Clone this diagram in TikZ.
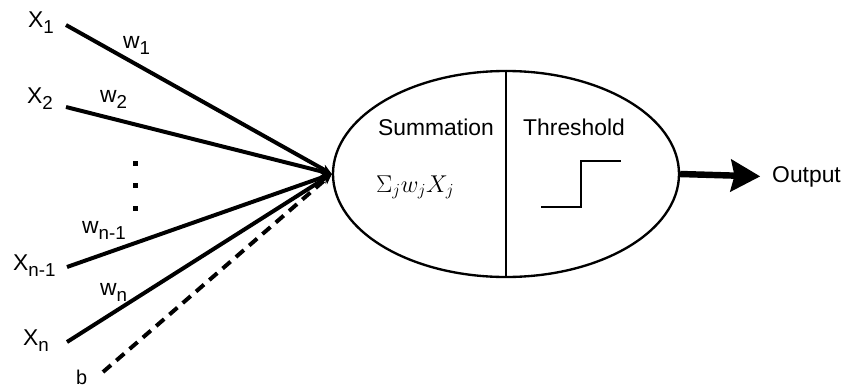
\documentclass[tikz,border=0pt]{standalone}
\usepackage[no-math]{fontspec}
\setmainfont{Liberation Sans}
\usetikzlibrary{arrows.meta,shapes.geometric}

\newcommand\lowsub[1]{\raisebox{-0.55ex}{\fontsize{16}{16}\selectfont #1}}

\tikzset{
  lbl/.style={inner sep=0pt, anchor=base west, font=\fontsize{19.5}{22}\selectfont},
  wire/.style={line width=3.4pt, -{Stealth[length=9pt,width=8pt]}},
}

\begin{document}
\begin{tikzpicture}[x=0.03cm, y=-0.03cm]
  \useasboundingbox (0,0) rectangle (843,389);

  % neuron body
  \node[draw, ellipse, line width=2pt, inner sep=0pt,
        minimum width=10.38cm, minimum height=6.18cm] (neuron) at (506,174) {};
  \draw[line width=2pt] (neuron.north) -- (neuron.south);
  \node[lbl] (sum)  at (378,135) {Summation};
  \node[lbl] (thr)  at (523,135) {Threshold};
  \node[lbl, font=\fontsize{20.5}{22}\selectfont] (form) at (376,192) {$\Sigma_j w_j X_j$};
  \draw[line width=1.8pt] (541,207) -- (581,207) -- (581,161) -- (621,161);

  % inputs
  \node[lbl] (x1)  at (28,27)  {X\lowsub{1}};
  \node[lbl] (x2)  at (27,103) {X\lowsub{2}};
  \node[lbl] (xn1) at (13,270) {X\lowsub{n-1}};
  \node[lbl] (xn)  at (23,345) {X\lowsub{n}};
  \node[lbl, font=\fontsize{17}{20}\selectfont] (b) at (76,384) {b};
  \coordinate (x1in)  at (66,25);
  \coordinate (x2in)  at (66,107);
  \coordinate (xn1in) at (67,267);
  \coordinate (xnin)  at (67,342);
  \coordinate (bin)   at (103,372);

  \node[lbl] (w1)  at (123,48)  {w\lowsub{1}};
  \node[lbl] (w2)  at (100,102) {w\lowsub{2}};
  \node[lbl] (wn1) at (82,233)  {w\lowsub{n-1}};
  \node[lbl] (wn)  at (100,295) {w\lowsub{n}};

  \foreach \y in {163,185,208}
    \fill (132.5,\y-2.5) rectangle ++(5,5);

  \draw[wire] (x1in)  -- (neuron.west);
  \draw[wire] (x2in)  -- (neuron.west);
  \draw[wire] (xn1in) -- (neuron.west);
  \draw[wire] (xnin)  -- (neuron.west);
  \draw[wire, dash pattern=on 9pt off 6pt] (bin) -- (neuron.west);

  % output
  \node[lbl] (out) at (772,182) {Output};
  \draw[line width=5.5pt, -{Stealth[length=25pt,width=27pt,inset=3pt]}]
    (neuron.east) -- ([xshift=-10pt]out.west);
\end{tikzpicture}
\end{document}
